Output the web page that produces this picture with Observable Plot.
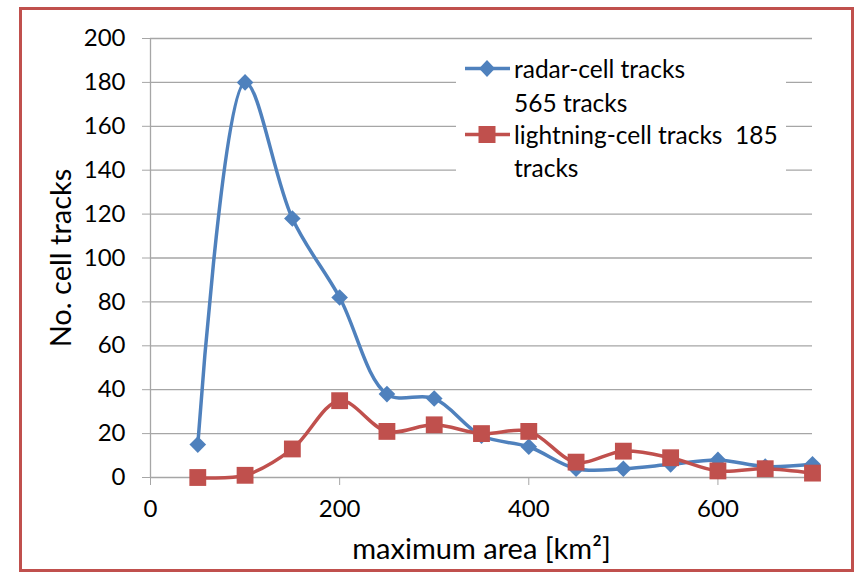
<!DOCTYPE html>
<html><head><meta charset="utf-8">
<script src="https://cdn.jsdelivr.net/npm/d3@7"></script>
<script src="https://cdn.jsdelivr.net/npm/@observablehq/plot@0.6"></script>
<style>
body{margin:0;background:#fff;}
#wrap{position:relative;width:854px;height:572px;font-family:Lato, "Open Sans", sans-serif;overflow:hidden;}
#border{position:absolute;left:19px;top:7px;width:829px;height:559px;border:3px solid #C0504D;pointer-events:none;}
#legend{position:absolute;left:456px;top:50px;width:330px;height:135px;background:#fff;font-size:24.5px;color:#000;}
.row{position:absolute;left:0;height:33px;line-height:33px;white-space:pre;}
.row svg{position:absolute;left:8px;top:0;}
.row span{position:absolute;left:58px;top:0;}
</style></head>
<body><div id="wrap"><div id="chart"></div><div id="legend"></div><div id="border"></div></div>
<script>
const areas = [50,100,150,200,250,300,350,400,450,500,550,600,650,700];
const radar = [15,180,118,82,38,36,19,14,4,4,6,8,5,6];
const lightning = [0,1,13,35,21,24,20,21,7,12,9,3,4,2];
const yTicks = [0,20,40,60,80,100,120,140,160,180,200];
const xTicks = [0,200,400,600];
const seriesNames = ["radar-cell tracks", "lightning-cell tracks"];
const legendLines = [["radar-cell tracks","565 tracks"],["lightning-cell tracks  185","tracks"]];
const colors = ["#4F81BD","#C0504D"];
const yLabel = "No. cell tracks";
const xLabel = "maximum area [km²]";

const radarData = areas.map((a,i)=>({area:a,count:radar[i]}));
const lightData = areas.map((a,i)=>({area:a,count:lightning[i]}));

const chart = Plot.plot({
  width:854, height:572,
  marginLeft:150, marginRight:42, marginTop:38, marginBottom:95,
  style:{fontFamily:"Lato, 'Open Sans', sans-serif", fontSize:"24px", color:"#000", background:"transparent"},
  x:{domain:[0,700]},
  y:{domain:[0,200]},
  marks:[
    Plot.gridY(yTicks,{stroke:"#a6a6a6",strokeOpacity:1,strokeWidth:1.3}),
    Plot.axisY(yTicks,{tickSize:8,tickPadding:17,stroke:"#a6a6a6",fill:"#000",label:null,fontSize:24,tickFormat:d=>String(d)}),
    Plot.ruleX([0],{y1:0,y2:200,stroke:"#a6a6a6",strokeWidth:1.3}),
    Plot.axisX(xTicks,{tickSize:8,tickPadding:14,stroke:"#a6a6a6",fill:"#000",label:null,fontSize:24,tickFormat:d=>String(d)}),
    Plot.line(radarData,{x:"area",y:"count",curve:"catmull-rom",stroke:colors[0],strokeWidth:3.5}),
    Plot.dot(radarData,{x:"area",y:"count",symbol:"diamond2",r:7.5,fill:colors[0],stroke:null}),
    Plot.line(lightData,{x:"area",y:"count",curve:"catmull-rom",stroke:colors[1],strokeWidth:3.5}),
    Plot.dot(lightData,{x:"area",y:"count",symbol:"square",r:9.5,fill:colors[1],stroke:null}),
    Plot.text([yLabel],{text:d=>d,frameAnchor:"left",textAnchor:"middle",rotate:-90,dx:-89,fontSize:29,fill:"#000"}),
    Plot.text([xLabel],{text:d=>d,frameAnchor:"bottom",textAnchor:"middle",dy:81,fontSize:29,fill:"#000"})
  ]
});
document.getElementById("chart").appendChild(chart);

const legend = document.getElementById("legend");
const rowTops = [[2,36],[68,101]];
legendLines.forEach((lines,i)=>{
  lines.forEach((t,j)=>{
    const row = document.createElement("div");
    row.className="row";
    row.style.top = rowTops[i][j]+"px";
    if(j===0){
      const marker = i===0
        ? `<polygon points="23,8 31,16.5 23,25 15,16.5" fill="${colors[0]}"/>`
        : `<rect x="14.5" y="8" width="17" height="17" fill="${colors[1]}"/>`;
      row.innerHTML = `<svg width="48" height="33"><line x1="1" y1="16.5" x2="46" y2="16.5" stroke="${colors[i]}" stroke-width="3.5"/>${marker}</svg>`;
    }
    const s = document.createElement("span");
    s.textContent = t;
    row.appendChild(s);
    legend.appendChild(row);
  });
});
</script>
</body></html>
